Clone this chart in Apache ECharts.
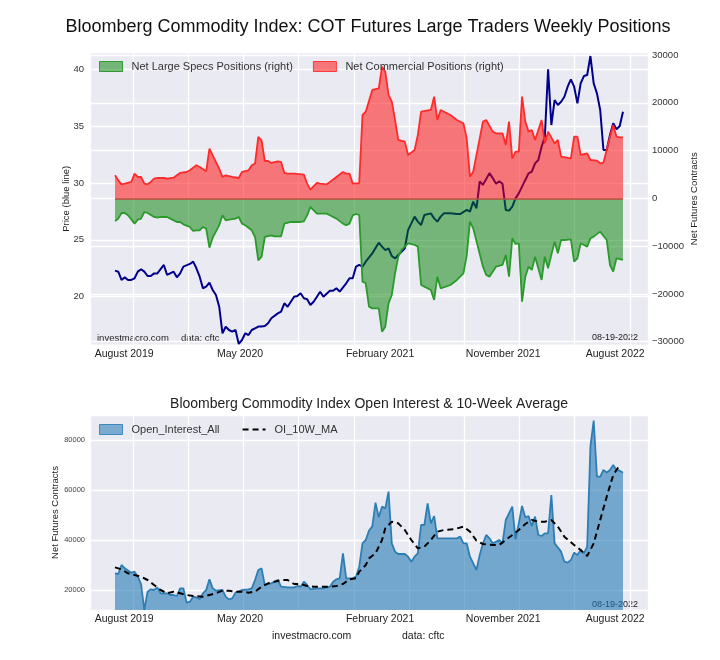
<!DOCTYPE html>
<html>
<head>
<meta charset="utf-8">
<script src="https://cdn.jsdelivr.net/npm/echarts@6/dist/echarts.min.js"></script>
<style>
  html, body { margin: 0; padding: 0; background: #fff; }
  #chart { width: 720px; height: 660px; }
</style>
</head>
<body>
<div id="chart"></div>
<script>
// x values are week numbers: week 0 = 2019-08-20 ... week 156 = 2022-08-16
const xLabelNames = ['August 2019', 'May 2020', 'February 2021', 'November 2021', 'August 2022'];
const xLabelWeeks = [2.8, 38.4, 81.4, 119.2, 153.6];

// price of the index (left axis)
const price = [[0,22.29],[1,22.2],[2,21.47],[3,21.7],[4,21.47],[5,21.47],[6,21.62],[7,22.2],[8,22.41],[9,22.2],[10,21.82],[11,21.82],[12,22.05],[13,22.05],[15,22.79],[16,21.91],[18,22.2],[19,21.7],[20,22.05],[21,22.64],[23,22.88],[24,23.08],[25,22.5],[26,21.76],[27,20.74],[28,20.88],[29,21.23],[30,20.59],[31,20.15],[32,19.12],[33,16.78],[34,17.36],[35,17.07],[36,16.93],[37,17.07],[38,15.84],[39,16.19],[40,16.78],[41,16.63],[42,17.07],[43,17.22],[44,17.37],[45,17.37],[46,17.42],[47,17.66],[48,18.1],[50,18.53],[51,18.68],[52,19.42],[53,19.12],[55,20.0],[56,20.06],[57,20.3],[58,19.86],[59,19.77],[60,19.27],[61,19.56],[63,20.44],[64,20.0],[66,20.53],[67,20.53],[68,20.74],[69,20.44],[71,21.18],[72,21.62],[73,21.62],[74,22.64],[75,22.79],[76,22.64],[77,23.08],[79,23.81],[81,24.75],[82,24.4],[83,24.1],[84,24.25],[85,23.58],[86,23.37],[87,23.67],[89,24.25],[90,25.86],[92,27.04],[93,26.6],[94,26.31],[95,27.18],[97,27.33],[98,26.89],[99,26.6],[100,27.04],[101,27.33],[103,27.33],[105,27.27],[106,27.27],[108,27.63],[109,27.48],[110,28.36],[111,27.77],[112,30.14],[113,29.85],[115,30.87],[116,30.43],[117,29.93],[118,30.14],[119,29.93],[120,27.63],[121,27.57],[122,27.92],[123,28.65],[124,29.09],[125,29.68],[127,30.85],[128,31.0],[129,31.73],[130,32.02],[131,33.19],[132,34.07],[133,40.0],[134,35.1],[135,37.3],[136,36.86],[137,37.15],[138,37.59],[139,38.47],[140,39.12],[141,38.47],[142,37.0],[143,38.76],[144,39.41],[145,39.5],[146,41.17],[147,38.76],[148,37.88],[149,36.42],[150,32.9],[151,32.9],[152,34.22],[153,35.25],[154,34.72],[155,35.01],[156,36.27]];

// net large speculator positions (right axis)
const specs = [[0,-4744],[1,-4256],[2,-3070],[3,-3070],[4,-3558],[6,-5303],[7,-4465],[8,-4256],[9,-2861],[10,-3070],[12,-3907],[13,-4047],[14,-3907],[16,-3907],[17,-4256],[19,-4954],[20,-4954],[21,-5442],[23,-6000],[24,-6837],[25,-6698],[26,-6698],[27,-6000],[28,-6349],[29,-10326],[30,-8233],[32,-5651],[33,-3558],[34,-4605],[35,-4465],[37,-4256],[38,-3907],[39,-5303],[40,-5651],[42,-6698],[43,-8093],[44,-12977],[45,-12279],[46,-8093],[48,-7744],[49,-7954],[51,-7954],[52,-5303],[54,-4954],[55,-4954],[57,-4954],[58,-4814],[59,-3558],[60,-1814],[62,-3209],[63,-3209],[65,-3209],[66,-3558],[68,-4256],[70,-5303],[71,-5651],[72,-5303],[73,-3558],[74,-3279],[75,-3489],[76,-17441],[77,-17791],[78,-22675],[79,-23024],[81,-23024],[82,-27908],[83,-26862],[84,-21978],[85,-20233],[86,-15698],[87,-12210],[88,-10814],[89,-10117],[90,-9419],[92,-9768],[93,-10117],[94,-18140],[95,-18489],[97,-19186],[98,-21280],[99,-16396],[100,-18838],[103,-18140],[105,-17093],[107,-15698],[108,-12000],[109,-4884],[110,-6279],[113,-14303],[114,-16047],[115,-16396],[117,-14303],[119,-13954],[120,-11861],[121,-16396],[122,-8372],[123,-9559],[124,-9419],[125,-21629],[126,-16396],[127,-14303],[128,-15000],[129,-12210],[131,-17093],[132,-12210],[133,-14652],[135,-9070],[136,-11512],[137,-8721],[138,-8721],[140,-8582],[141,-13256],[142,-12559],[143,-9419],[145,-10117],[146,-8372],[147,-8024],[149,-6977],[151,-8721],[152,-13954],[153,-15349],[154,-12559],[156,-12907]];

// net commercial positions (right axis)
const comms = [[0,4814],[1,3768],[2,2930],[3,3070],[5,3419],[6,5163],[7,4465],[8,4465],[9,3070],[10,2930],[11,3419],[12,4116],[13,4256],[15,4256],[16,4116],[18,4326],[19,4814],[20,5303],[22,5512],[23,5861],[25,6907],[26,6558],[28,5651],[29,10396],[30,9000],[32,6209],[33,4465],[34,4814],[36,4465],[38,4256],[39,5512],[41,5861],[42,6907],[43,7256],[44,12838],[45,12140],[46,7814],[47,7814],[48,7396],[50,7744],[51,7605],[52,5303],[53,5163],[55,5163],[58,4954],[59,3070],[60,1814],[62,3209],[63,3070],[65,2930],[66,3419],[68,4465],[70,5512],[71,5163],[72,5163],[73,3070],[74,3140],[75,3140],[76,17441],[77,18140],[79,22675],[81,23024],[82,27559],[83,26513],[84,21629],[85,20233],[86,16396],[87,12210],[89,11861],[90,9070],[92,10117],[93,13256],[94,18140],[97,18489],[98,21280],[99,16396],[100,18489],[103,17442],[105,16396],[107,15698],[108,12559],[109,4535],[110,5582],[113,16047],[114,16396],[116,13954],[117,13605],[119,13605],[120,11163],[121,16047],[122,8372],[123,9768],[124,9768],[125,21280],[126,16047],[127,13954],[128,14303],[129,12210],[131,16396],[132,11512],[133,13954],[135,11512],[136,12210],[137,8721],[140,8372],[141,12907],[142,12907],[143,9070],[145,9419],[146,8024],[148,7884],[149,7326],[150,7465],[152,12907],[153,15349],[154,12907],[155,12768],[156,12768]];

// open interest and its 10-week moving average
const openInterest = [[0,26667],[1,26400],[2,30000],[3,28667],[5,26933],[6,27333],[7,25333],[8,22400],[9,12000],[10,19333],[11,20267],[12,20000],[13,21067],[14,18667],[16,18667],[17,18000],[18,18000],[19,17600],[20,20667],[21,20667],[22,14933],[23,15333],[24,17333],[25,17067],[26,16400],[27,18667],[28,20000],[29,24267],[30,20667],[31,19733],[33,20000],[34,17333],[35,16267],[36,16667],[37,18933],[39,20000],[41,20267],[42,20667],[43,24000],[44,28000],[45,28667],[46,22000],[47,22400],[48,22667],[49,23333],[50,24000],[51,21333],[53,21067],[55,21067],[56,21600],[57,21333],[58,23333],[59,22000],[60,20267],[62,20667],[64,20667],[66,21333],[67,23333],[68,24267],[69,24667],[70,34667],[71,24667],[73,24667],[74,25333],[75,29333],[76,38667],[77,40000],[78,43733],[79,45333],[80,54933],[81,49067],[82,53333],[83,52667],[84,59333],[85,38667],[86,35333],[87,34400],[89,34400],[90,33333],[91,31333],[92,33333],[93,34667],[94,46000],[95,46000],[96,54667],[97,46667],[98,49600],[99,40667],[102,40667],[105,40667],[106,41333],[107,38667],[108,38667],[109,33333],[111,28000],[112,34000],[113,38667],[114,42000],[115,40667],[116,38667],[118,40000],[119,38667],[120,48000],[122,53333],[123,40267],[124,46667],[125,53600],[126,49067],[127,49600],[128,45600],[129,49333],[130,42000],[131,41600],[132,42667],[133,42667],[134,58000],[135,38667],[137,35333],[138,31333],[139,30933],[140,32000],[141,34933],[142,34000],[143,36000],[144,34667],[145,37333],[146,77333],[147,87733],[148,65333],[149,65333],[150,68000],[151,66933],[152,68000],[153,70000],[154,68000],[155,67733],[156,66933]];
const oiMA = [[0,29067],[2,28267],[4,26667],[6,26000],[8,25333],[10,24000],[12,22000],[14,20000],[16,18667],[18,19333],[20,18667],[22,18000],[24,17600],[27,17333],[29,18000],[31,18667],[33,19733],[35,19733],[37,19333],[39,19333],[41,18933],[43,19333],[45,21333],[47,22667],[49,23333],[51,24000],[53,24000],[55,22400],[57,22400],[59,21600],[61,21333],[63,21333],[66,21333],[68,21600],[70,22400],[72,24267],[74,24667],[75,27333],[77,30000],[78,32667],[80,34667],[82,40000],[83,44667],[85,47333],[87,46667],[89,44000],[91,40000],[93,36667],[95,37333],[97,40000],[99,43333],[101,44000],[104,44267],[107,45333],[109,43333],[111,39733],[113,38400],[116,38000],[118,38000],[120,40000],[122,42000],[124,44000],[126,46400],[128,48000],[130,47333],[132,47333],[134,48000],[136,45333],[138,41333],[141,38000],[143,36000],[145,33600],[147,38667],[149,48000],[151,57333],[153,66000],[155,70000]];

const FONT = '"Liberation Sans", Arial, sans-serif';
const BG = '#EAEAF2';
const firstWeek = specs[0][0];
const lastWeek = specs[specs.length - 1][0];

function minusFmt(v) {
  return v < 0 ? '\u2212' + Math.abs(v) : String(v);
}
function weekLabel(v) {
  const i = xLabelWeeks.findIndex(w => Math.abs(w - v) < 0.01);
  return i < 0 ? '' : xLabelNames[i];
}

const chart = echarts.init(document.getElementById('chart'));

const gridLine = { show: true, lineStyle: { color: '#fff', width: 1.3 } };
const noLine = { show: false };

// week axis (data + labels) and a helper axis that only carries the vertical grid lines
function weekAxes(gridIndex) {
  return [{
    type: 'value', gridIndex: gridIndex, min: -7.68, max: 163.68,
    axisLine: noLine, axisTick: noLine, splitLine: noLine,
    axisLabel: {
      customValues: xLabelWeeks, formatter: weekLabel,
      fontSize: 10.5, color: '#222', margin: 4
    }
  }, {
    type: 'value', gridIndex: gridIndex, min: 0.221, max: 10.33, splitNumber: 10,
    axisLine: noLine, axisTick: noLine, axisLabel: noLine,
    splitLine: gridLine
  }];
}

function yName(text, gap) {
  return {
    name: text, nameLocation: 'middle', nameGap: gap, nameRotate: 90, nameMoveOverlap: false,
    nameTextStyle: { fontSize: 9.5, color: '#222' }
  };
}

const option = {
  animation: false,
  backgroundColor: '#fff',
  textStyle: { fontFamily: FONT },
  title: [{
    text: 'Bloomberg Commodity Index: COT Futures Large Traders Weekly Positions',
    left: 368, top: 18, textAlign: 'center', padding: 0,
    textStyle: { fontSize: 18, fontWeight: 'normal', color: '#111', fontFamily: FONT }
  }, {
    text: 'Bloomberg Commodity Index Open Interest & 10-Week Average',
    left: 369, top: 397, textAlign: 'center', padding: 0,
    textStyle: { fontSize: 14, fontWeight: 'normal', color: '#222', fontFamily: FONT }
  }],
  legend: [{
    left: 99, top: 61, itemWidth: 23, itemHeight: 10, itemGap: 20, padding: 0,
    icon: 'rect',
    textStyle: { fontSize: 11, color: '#333', padding: [0, 0, 0, 4] },
    data: [
      { name: 'Net Large Specs Positions (right)', itemStyle: { color: 'rgba(0,128,0,0.5)', borderColor: 'rgba(20,140,20,0.8)', borderWidth: 1 } },
      { name: 'Net Commercial Positions (right)', itemStyle: { color: 'rgba(255,0,0,0.5)', borderColor: 'rgba(255,30,30,0.8)', borderWidth: 1 } }
    ]
  }, {
    left: 99, top: 424, itemWidth: 23, itemHeight: 10, itemGap: 22, padding: 0,
    textStyle: { fontSize: 11, color: '#333', padding: [0, 0, 0, 4] },
    data: [
      { name: 'Open_Interest_All', icon: 'rect', itemStyle: { color: 'rgba(31,119,180,0.55)', borderColor: 'rgba(31,119,180,0.8)', borderWidth: 1 } },
      { name: 'OI_10W_MA', itemStyle: { opacity: 0 } }
    ]
  }],
  grid: [
    { left: 90, right: 72, top: 52.5, bottom: 315, show: true, backgroundColor: BG, borderWidth: 0 },
    { left: 90, right: 72, top: 415, bottom: 50, show: true, backgroundColor: BG, borderWidth: 0 }
  ],
  xAxis: weekAxes(0).concat(weekAxes(1)),
  yAxis: [Object.assign({
    type: 'value', gridIndex: 0, min: 15.75, max: 41.48, splitNumber: 5,
    axisLine: noLine, axisTick: noLine,
    axisLabel: { fontSize: 9.5, color: '#333', margin: 6, showMinLabel: false, showMaxLabel: false },
    splitLine: gridLine
  }, yName('Price (blue line)', 19)), Object.assign({
    type: 'value', gridIndex: 0, position: 'right', min: -30700, max: 30520, splitNumber: 6,
    axisLine: noLine, axisTick: noLine,
    axisLabel: { fontSize: 9.5, color: '#333', margin: 4, formatter: minusFmt, showMinLabel: false, showMaxLabel: false },
    splitLine: gridLine
  }, yName('Net Futures Contracts', 41)), Object.assign({
    type: 'value', gridIndex: 1, min: 12000, max: 90000, splitNumber: 4,
    axisLine: noLine, axisTick: noLine,
    axisLabel: { fontSize: 7.5, color: '#444', margin: 5, formatter: minusFmt, showMinLabel: false, showMaxLabel: false },
    splitLine: gridLine
  }, yName('Net Futures Contracts', 29.5))],
  series: [{
    name: 'Price', type: 'line', xAxisIndex: 0, yAxisIndex: 0, z: 1,
    data: price, symbol: 'none',
    lineStyle: { color: '#00008B', width: 2 }, itemStyle: { color: '#00008B' }
  }, {
    name: 'Net Large Specs Positions (right)', type: 'line', xAxisIndex: 0, yAxisIndex: 1, z: 2,
    data: specs, symbol: 'none',
    lineStyle: { color: '#2A9A2A', width: 1.8 }, itemStyle: { color: '#2A9A2A' },
    areaStyle: { color: 'rgb(0,128,0)', opacity: 0.5, origin: 0 }
  }, {
    name: 'Net Commercial Positions (right)', type: 'line', xAxisIndex: 0, yAxisIndex: 1, z: 2,
    data: comms, symbol: 'none',
    lineStyle: { color: '#FF2A2A', width: 1.8 }, itemStyle: { color: '#FF2A2A' },
    areaStyle: { color: 'rgb(255,0,0)', opacity: 0.5, origin: 0 },
    markLine: {
      silent: true, symbol: 'none', label: { show: false },
      lineStyle: { color: '#C8453A', width: 1.5, type: 'solid' },
      data: [[{ coord: [firstWeek, 0] }, { coord: [lastWeek, 0] }]]
    }
  }, {
    name: 'Open_Interest_All', type: 'line', xAxisIndex: 2, yAxisIndex: 2,
    data: openInterest, symbol: 'none',
    lineStyle: { color: '#2E7EB4', width: 1.8 }, itemStyle: { color: '#2E7EB4' },
    areaStyle: { color: 'rgb(31,119,180)', opacity: 0.58, origin: 'start' }
  }, {
    name: 'OI_10W_MA', type: 'line', xAxisIndex: 2, yAxisIndex: 2, z: 3,
    data: oiMA, symbol: 'none',
    lineStyle: { color: '#000', width: 2, type: [6, 4] }, itemStyle: { color: '#000' }
  }],
  graphic: [
    { type: 'text', left: 97, top: 333, style: { text: 'investmacro.com', fontSize: 9.5, fill: '#222', fontFamily: FONT } },
    { type: 'text', left: 181, top: 333, style: { text: 'data: cftc', fontSize: 9.5, fill: '#222', fontFamily: FONT } },
    { type: 'text', left: 592, top: 333, style: { text: '08-19-2022', fontSize: 9, fill: '#222', fontFamily: FONT } },
    { type: 'text', left: 592, top: 600, style: { text: '08-19-2022', fontSize: 9, fill: '#222', fontFamily: FONT } },
    { type: 'text', left: 272, top: 631, style: { text: 'investmacro.com', fontSize: 10.5, fill: '#222', fontFamily: FONT } },
    { type: 'text', left: 402, top: 631, style: { text: 'data: cftc', fontSize: 10.5, fill: '#222', fontFamily: FONT } }
  ]
};

chart.setOption(option);
</script>
</body>
</html>
